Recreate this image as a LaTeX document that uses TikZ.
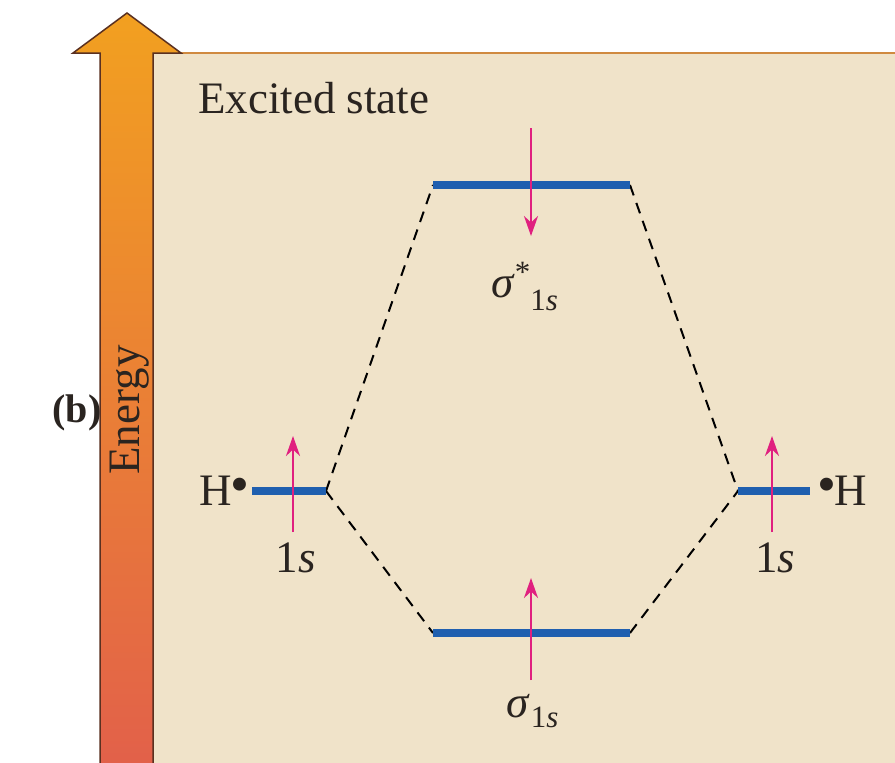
\documentclass[tikz,border=0pt]{standalone}
\usepackage{fontspec}
\setmainfont{Liberation Serif}
\usetikzlibrary{arrows.meta}
\definecolor{panelbg}{HTML}{F0E3C9}
\definecolor{paneledge}{HTML}{D08A40}
\definecolor{arrtop}{HTML}{F2A020}
\definecolor{arrbot}{HTML}{E2604A}
\definecolor{arredge}{HTML}{5A3020}
\definecolor{levelblue}{HTML}{1F5FAF}
\definecolor{spin}{HTML}{E0207F}
\definecolor{txt}{HTML}{2A2420}
\newcommand{\bigf}{\fontsize{45}{52}\selectfont}
\newcommand{\subf}{\fontsize{31}{36}\selectfont}
\newcommand{\hdot}{\raisebox{3pt}{\fontsize{54}{54}\selectfont\textbullet}}
\tikzset{
  level/.style={levelblue, line width=8pt},
  corr/.style={black, line width=2pt, dash pattern=on 11pt off 8pt},
  spinarrow/.style={spin, line width=2.6pt, -{Stealth[length=20pt,width=14pt]}},
  lbl/.style={inner sep=0pt, text=txt, font=\bigf},
}
\begin{document}
\begin{tikzpicture}[x=1pt,y=-1pt]
\useasboundingbox (0,0) rectangle (895,763);
\fill[white] (0,0) rectangle (895,763);
% panel
\fill[panelbg] (153,53) rectangle (895,763);
\draw[paneledge, line width=2pt] (153,53) -- (895,53);
% energy arrow
\shade[top color=arrtop, bottom color=arrbot, draw=arredge, line width=1.5pt]
  (100,770) -- (100,53) -- (73,53) -- (127,13) -- (181,53) -- (153,53) -- (153,770) -- cycle;
\node[lbl, rotate=90, anchor=base] (energy) at (139,410) {Energy};
\node[lbl, anchor=base, font=\fontsize{40}{46}\selectfont\bfseries] (b) at (77,422) {(b)};
\node[lbl, anchor=base west] (exc) at (198,113) {Excited state};
% level coordinates
\coordinate (L1) at (252,491); \coordinate (L2) at (326,491);
\coordinate (R1) at (738,491); \coordinate (R2) at (810,491);
\coordinate (S1) at (433,185); \coordinate (S2) at (630,185);
\coordinate (B1) at (433,633); \coordinate (B2) at (630,633);
% correlation lines
\draw[corr] (L2) -- (S1);
\draw[corr] (L2) -- (B1);
\draw[corr] (S2) -- (R1);
\draw[corr] (B2) -- (R1);
% levels
\draw[level] (L1) -- (L2);
\draw[level] (R1) -- (R2);
\draw[level] (S1) -- (S2);
\draw[level] (B1) -- (B2);
% spin arrows
\coordinate (la0) at (293,532); \coordinate (la1) at (293,436);
\coordinate (ra0) at (772,532); \coordinate (ra1) at (772,436);
\coordinate (sa0) at (531,128); \coordinate (sa1) at (531,236);
\coordinate (ba0) at (531,680); \coordinate (ba1) at (531,578);
\draw[spinarrow] (la0) -- (la1);
\draw[spinarrow] (ra0) -- (ra1);
\draw[spinarrow] (sa0) -- (sa1);
\draw[spinarrow] (ba0) -- (ba1);
% labels
\node[lbl, anchor=base east] (hl) at (250,505) {H\kern-1pt\hdot};
\node[lbl, anchor=base west] (hr) at (817,505) {\hdot\kern-2pt H};
\node[lbl, anchor=base] (ls) at (296,572) {1\textit{s}};
\node[lbl, anchor=base] (rs) at (775,572) {1\textit{s}};
\node[lbl, anchor=base west] (ss) at (491,297) {\textit{σ}\raisebox{15pt}{\subf*}\raisebox{-13pt}{\subf 1\textit{s}}};
\node[lbl, anchor=base west] (bs) at (506,717) {\textit{σ}\kern1pt\raisebox{-10pt}{\subf 1\textit{s}}};
\end{tikzpicture}
\end{document}
